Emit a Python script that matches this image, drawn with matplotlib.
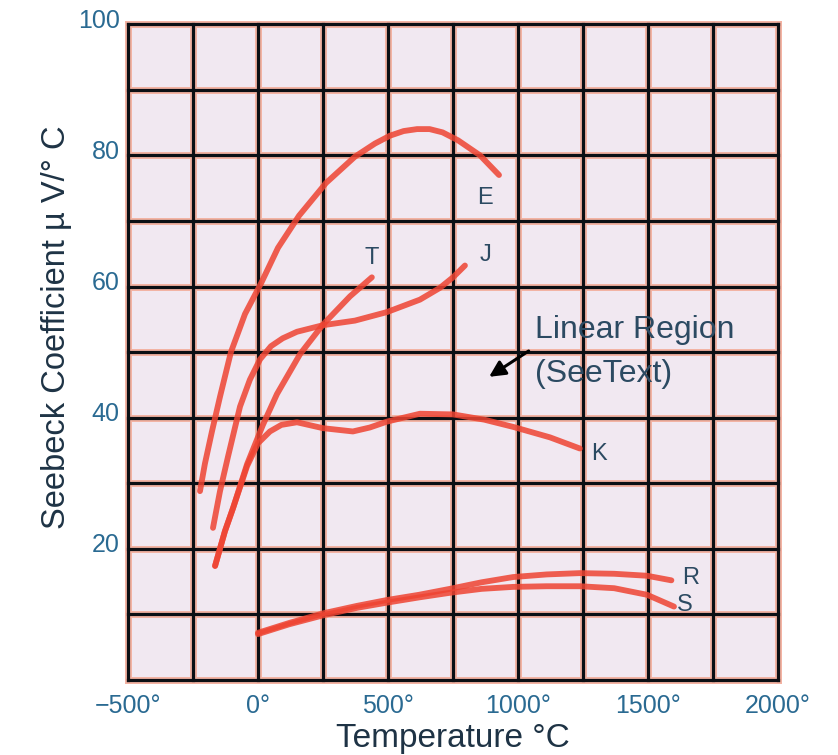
import matplotlib
matplotlib.use("Agg")
import matplotlib.pyplot as plt
import matplotlib.transforms as mtransforms
import numpy as np

plt.rcParams['font.family'] = ['Liberation Sans', 'DejaVu Sans']

# ---- data ----
E_x = [-223, -204, -177, -146, -104, -50, 12, 77, 158, 262, 373, 450, 508, 560, 612, 660, 710, 769, 854, 927]
E_y = [28.8, 33.0, 37.9, 43.2, 50.0, 55.8, 60.5, 65.9, 70.8, 75.8, 79.8, 81.8, 83.0, 83.7, 84.0, 84.0, 83.5, 82.3, 80.0, 77.0]

J_x = [-173, -146, -115, -69, -31, 8, 50, 95, 150, 250, 373, 496, 623, 700, 750, 796]
J_y = [23.2, 28.8, 34.1, 41.7, 45.8, 48.9, 50.9, 52.1, 53.1, 54.1, 54.8, 56.1, 58.0, 59.8, 61.4, 63.2]

T_x = [-165, -127, -96, -42, 19, 73, 162, 250, 354, 438]
T_y = [17.4, 22.7, 26.2, 32.9, 38.9, 43.6, 49.7, 54.2, 58.5, 61.4]

K_x = [-165, -127, -96, -42, 0, 46, 90, 150, 250, 365, 430, 496, 623, 750, 870, 981, 1123, 1238]
K_y = [17.4, 22.7, 26.2, 32.6, 36.1, 37.9, 38.9, 39.3, 38.4, 37.9, 38.5, 39.4, 40.6, 40.5, 39.7, 38.6, 37.0, 35.3]

R_x = [0, 120, 254, 380, 496, 620, 738, 860, 981, 1110, 1238, 1370, 1496, 1590]
R_y = [7.2, 8.7, 10.2, 11.3, 12.2, 13.0, 13.9, 14.9, 15.7, 16.1, 16.3, 16.2, 15.9, 15.2]

S_x = [0, 120, 254, 380, 496, 620, 738, 860, 981, 1110, 1238, 1370, 1496, 1600]
S_y = [7.0, 8.5, 9.9, 11.0, 11.8, 12.6, 13.3, 13.9, 14.2, 14.3, 14.3, 14.0, 13.0, 11.2]

curve_labels = ["E", "J", "T", "K", "R", "S"]
label_pos = {"E": (875, 73.5), "J": (875, 64.8), "T": (438, 64.4),
             "K": (1310, 34.4), "R": (1665, 15.5), "S": (1640, 11.4)}

x_ticks = [-500, 0, 500, 1000, 1500, 2000]
x_ticklabels = ["\u2212500\u00b0", "0\u00b0", "500\u00b0", "1000\u00b0", "1500\u00b0", "2000\u00b0"]
y_ticks = [20, 40, 60, 80, 100]
y_ticklabels = ["20", "40", "60", "80", "100"]
x_grid = np.arange(-500, 2001, 250)
y_grid = np.arange(0, 101, 10)

# ---- figure ----
fig = plt.figure(figsize=(8.38, 7.55), dpi=100)
ax = fig.add_axes([0.1527, 0.0993, 0.7757, 0.8687])
ax.set_xlim(-500, 2000)
ax.set_ylim(0, 100)
ax.set_facecolor('#F1E8F1')
for s in ax.spines.values():
    s.set_visible(False)

halo = '#F3B2A2'
for gx in x_grid:
    ax.axvline(gx, color=halo, lw=5, zorder=1, clip_on=False)
for gy in y_grid:
    ax.axhline(gy, color=halo, lw=5, zorder=1, clip_on=False)
for gx in x_grid:
    ax.axvline(gx, color='#0B0F14', lw=2.3, zorder=2, clip_on=False)
for gy in y_grid:
    ax.axhline(gy, color='#0B0F14', lw=2.3, zorder=2, clip_on=False)

red = '#EE4432'
series = {"E": (E_x, E_y), "J": (J_x, J_y), "T": (T_x, T_y),
          "K": (K_x, K_y), "R": (R_x, R_y), "S": (S_x, S_y)}
for name in curve_labels:
    xs, ys = series[name]
    ax.plot(xs, ys, color=red, lw=4.2, alpha=0.85, solid_capstyle='round',
            solid_joinstyle='round', zorder=3)

txtc = '#2C4A62'
for name in curve_labels:
    px, py = label_pos[name]
    ax.text(px, py, name, color=txtc, fontsize=17, ha='center', va='center', zorder=4)

ax.text(1065, 53.3, "Linear Region", color=txtc, fontsize=23, ha='left', va='center', zorder=4)
ax.text(1065, 46.6, "(SeeText)", color=txtc, fontsize=23, ha='left', va='center', zorder=4)
ax.annotate("", xy=(880, 46.0), xytext=(1050, 50.4),
            arrowprops=dict(arrowstyle='-|>', color='black', lw=2.2,
                            mutation_scale=24), zorder=5)

ax.set_xticks(x_ticks)
ax.set_xticklabels(x_ticklabels, fontsize=18, color='#2A6A92')
ax.set_yticks(y_ticks)
ax.set_yticklabels(y_ticklabels, fontsize=18, color='#2A6A92')
ax.tick_params(axis='x', length=0, pad=10)
ax.tick_params(axis='y', length=0, pad=6)
shift = mtransforms.ScaledTranslation(0, 6 / 100, fig.dpi_scale_trans)
for lab in ax.get_yticklabels():
    lab.set_transform(lab.get_transform() + shift)

ax.set_xlabel("Temperature \u00b0C", fontsize=24, color='#1E3345')
ax.xaxis.set_label_coords(0.5, -0.089)
ax.xaxis.label.set_va('center')
ax.set_ylabel("Seebeck Coefficient \u00b5 V/\u00b0 C", fontsize=23.5, color='#1E3345')
ax.yaxis.set_label_coords(-0.11, 0.538)
ax.yaxis.label.set_va('center')

fig.savefig("out.png", dpi=100, facecolor='white')
